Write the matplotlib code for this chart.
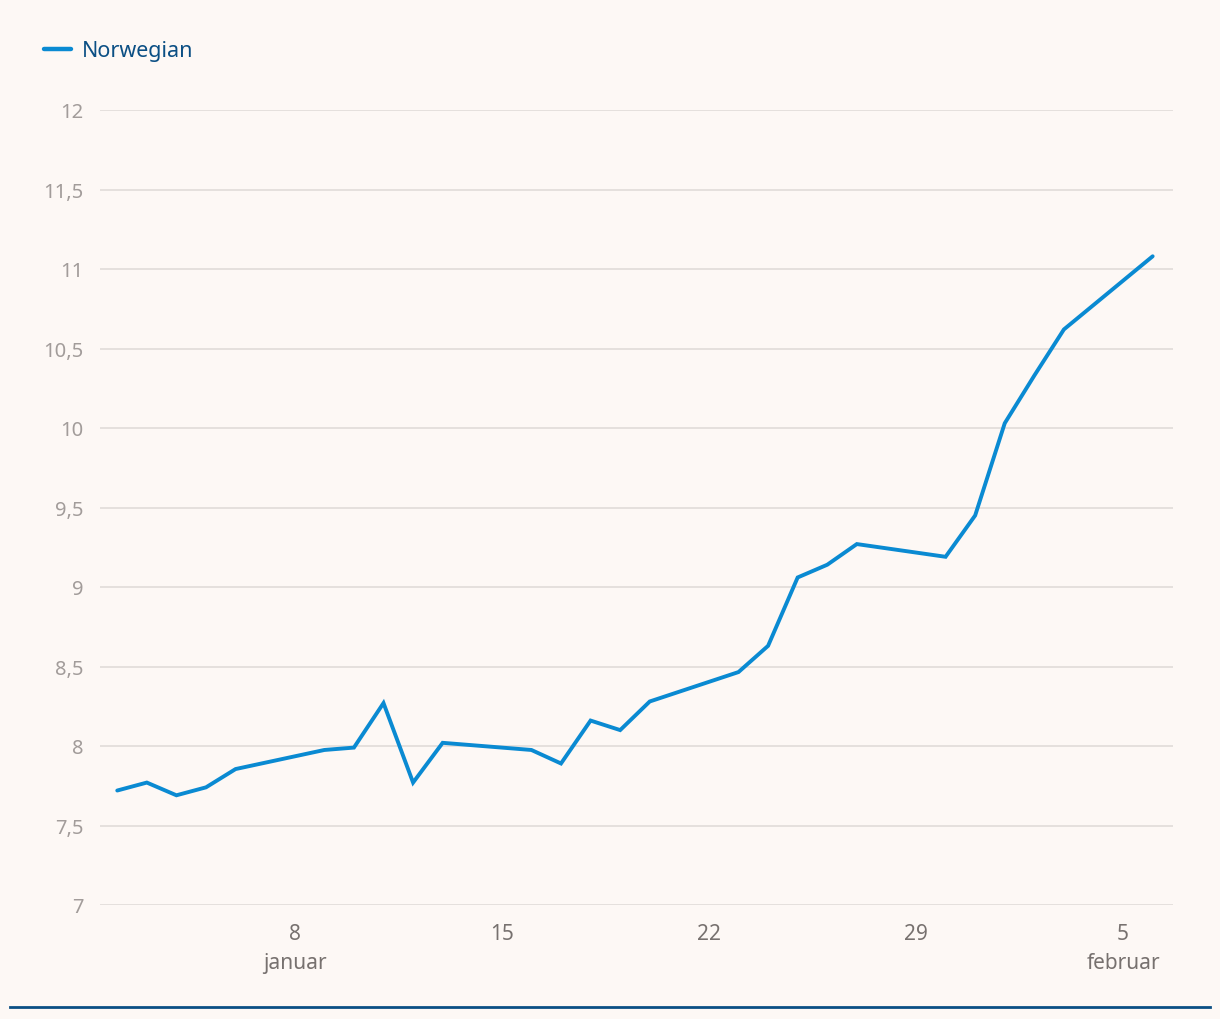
import numpy as np
import pandas as pd
import matplotlib
matplotlib.use('Agg')
import matplotlib.pyplot as plt
import matplotlib.dates as mdates

# trading days, Jan 2 - Feb 6 2023
dates = ['2023-01-02', '2023-01-03', '2023-01-04', '2023-01-05', '2023-01-06',
         '2023-01-09', '2023-01-10', '2023-01-11', '2023-01-12', '2023-01-13',
         '2023-01-16', '2023-01-17', '2023-01-18', '2023-01-19', '2023-01-20',
         '2023-01-23', '2023-01-24', '2023-01-25', '2023-01-26', '2023-01-27',
         '2023-01-30', '2023-01-31', '2023-02-01', '2023-02-02', '2023-02-03',
         '2023-02-06']
norwegian = [7.72, 7.77, 7.69, 7.74, 7.855,
             7.975, 7.99, 8.27, 7.77, 8.02,
             7.975, 7.89, 8.16, 8.10, 8.28,
             8.465, 8.63, 9.06, 9.14, 9.27,
             9.19, 9.45, 10.03, 10.33, 10.62,
             11.08]
y_ticks = [7, 7.5, 8, 8.5, 9, 9.5, 10, 10.5, 11, 11.5, 12]
x_ticks = ['2023-01-08', '2023-01-15', '2023-01-22', '2023-01-29', '2023-02-05']
x_tick_labels = ['8\njanuar', '15', '22', '29', '5\nfebruar']

bg = '#fdf8f5'
line_color = '#0a8ad2'
navy = '#0b4f84'

plt.rcParams['font.family'] = ['Noto Sans', 'DejaVu Sans']

fig = plt.figure(figsize=(12.2, 10.2), dpi=100, facecolor=bg)
ax = fig.add_axes([100/1220, 114/1020, 1073/1220, 795/1020], facecolor=bg)

x = pd.to_datetime(dates)
ax.plot(x, norwegian, color=line_color, linewidth=2.8, solid_joinstyle='miter',
        solid_capstyle='round', zorder=3)

ax.set_ylim(7, 12)
ax.set_xlim(pd.Timestamp('2023-01-01 10:00'), pd.Timestamp('2023-02-06 16:30'))

ax.set_yticks(y_ticks)
ax.set_yticklabels([f'{v:g}'.replace('.', ',') for v in y_ticks])
ax.set_xticks(pd.to_datetime(x_ticks))
ax.set_xticklabels(x_tick_labels, linespacing=1.5, va='top')

ax.grid(axis='y', color='#e3dedb', linewidth=1.3)
ax.grid(axis='x', visible=False)
for s in ax.spines.values():
    s.set_visible(False)
ax.tick_params(axis='y', length=0, pad=12, labelsize=14.5, labelcolor='#a29c9a')
ax.tick_params(axis='x', length=0, pad=13, labelsize=15, labelcolor='#77716f')

# legend
fig.add_artist(plt.Line2D([44/1220, 71/1220], [970/1020, 970/1020], color=line_color,
                          linewidth=3.2, solid_capstyle='round'))
fig.text(82/1220, 968/1020, 'Norwegian', color=navy, fontsize=15.5, va='center', ha='left')

# bottom rule
fig.add_artist(plt.Line2D([10/1220, 1210/1220], [12/1020, 12/1020], color=navy, linewidth=2))

plt.savefig('out.png', dpi=100, facecolor=bg)
